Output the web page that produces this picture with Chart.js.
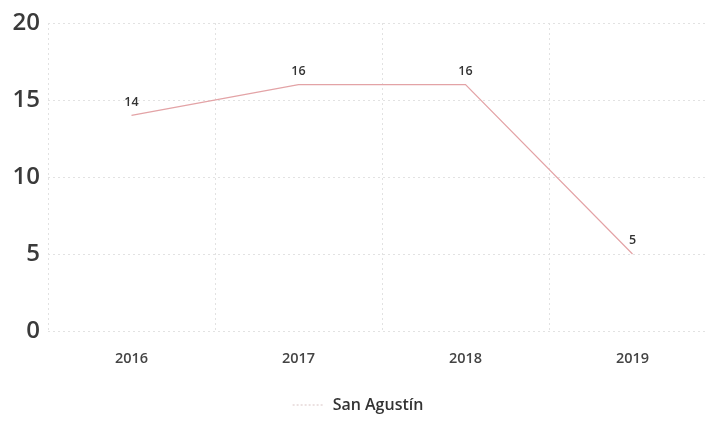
<!DOCTYPE html>
<html>
<head>
<meta charset="utf-8">
<script src="https://cdn.jsdelivr.net/npm/chart.js@4"></script>
<style>
html,body{margin:0;padding:0;background:#fff;overflow:hidden;}
#wrap{width:716px;height:423px;}
</style>
</head>
<body>
<div id="wrap"><canvas id="c" width="716" height="423"></canvas></div>
<script>
const categories = ['2016', '2017', '2018', '2019'];
const seriesName = 'San Agustín';
const seriesValues = [14, 16, 16, 5];
const yTicks = [0, 5, 10, 15, 20];

const dataLabelPlugin = {
  id: 'pointLabels',
  afterDatasetsDraw(chart) {
    const ctx = chart.ctx;
    chart.data.datasets.forEach((ds, i) => {
      const meta = chart.getDatasetMeta(i);
      meta.data.forEach((pt, j) => {
        ctx.save();
        ctx.font = '600 12.5px "Open Sans", sans-serif';
        ctx.fillStyle = '#333';
        ctx.textAlign = 'center';
        ctx.textBaseline = 'bottom';
        ctx.fillText(String(ds.data[j]), pt.x, pt.y - 7);
        ctx.restore();
      });
    });
  }
};

new Chart(document.getElementById('c'), {
  type: 'line',
  data: {
    labels: categories,
    datasets: [{
      label: seriesName,
      data: seriesValues,
      borderColor: '#e3a3a6',
      backgroundColor: '#e3a3a6',
      borderWidth: 1.2,
      pointRadius: 0,
      tension: 0,
      fill: false
    }]
  },
  options: {
    responsive: false,
    animation: false,
    layout: { padding: { top: 23, left: 0, right: 0, bottom: 0 } },
    plugins: {
      legend: {
        position: 'bottom',
        labels: {
          usePointStyle: true,
          pointStyle: 'line',
          pointStyleWidth: 32,
          padding: 10,
          color: '#333',
          font: { family: '"Open Sans", sans-serif', size: 16, weight: '600' },
          generateLabels(chart) {
            const items = Chart.defaults.plugins.legend.labels.generateLabels(chart);
            items.forEach(it => {
              it.lineDash = [2, 2];
              it.strokeStyle = '#d9c4c4';
              it.lineWidth = 1;
              it.pointStyle = 'line';
            });
            return items;
          }
        }
      },
      tooltip: { enabled: false }
    },
    scales: {
      x: {
        offset: true,
        grid: { offset: true, color: '#e2e2e2', drawTicks: false },
        border: { display: false, dash: [2, 3] },
        ticks: {
          padding: 19,
          color: '#444',
          font: { family: '"Open Sans", sans-serif', size: 14.5, weight: '600' }
        },
        afterFit(s) { s.height = 56; }
      },
      y: {
        min: 0,
        max: 20,
        afterBuildTicks(s) { s.ticks = yTicks.map(v => ({ value: v })); },
        grid: { color: '#e2e2e2', drawTicks: false },
        border: { display: false, dash: [2, 3] },
        ticks: {
          padding: 8,
          color: '#3a3a3a',
          font: { family: '"Open Sans", sans-serif', size: 24, weight: '600' }
        },
        afterFit(s) { s.width = 48; }
      }
    }
  },
  plugins: [dataLabelPlugin]
});
</script>
</body>
</html>
